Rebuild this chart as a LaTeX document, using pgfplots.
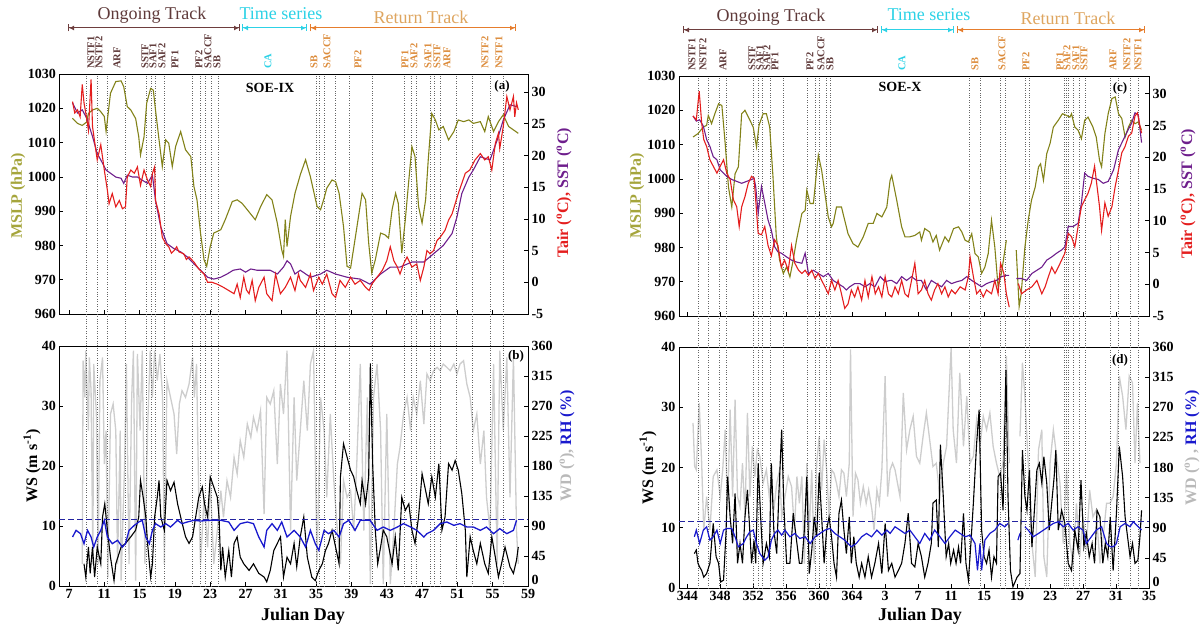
\documentclass[border=0pt]{standalone}
\usepackage{fontspec}
\setmainfont{Liberation Serif}
\usepackage{pgfplots}
\pgfplotsset{compat=1.18}
\usetikzlibrary{arrows.meta}
\definecolor{cOlive}{RGB}{130,130,25}
\definecolor{cOliveL}{RGB}{165,165,60}
\definecolor{cRed}{RGB}{228,30,30}
\definecolor{cPurple}{RGB}{110,30,140}
\definecolor{cGray}{RGB}{205,205,205}
\definecolor{cGrayL}{RGB}{185,185,185}
\definecolor{cBlue}{RGB}{25,25,205}
\definecolor{cBlueD}{RGB}{35,35,160}
\definecolor{cBrown}{RGB}{95,58,58}
\definecolor{cBrownA}{RGB}{110,62,62}
\definecolor{cCyan}{RGB}{45,210,230}
\definecolor{cOrange}{RGB}{230,125,45}
\definecolor{cOrangeT}{RGB}{222,165,95}
\definecolor{cOrangeL}{RGB}{220,140,60}
\pgfplotsset{
  base/.style={scale only axis, anchor=south west,
    ticklabel style={font=\fontsize{14}{14}\selectfont\bfseries},
    /pgf/number format/assume math mode=true,
    /pgf/number format/1000 sep={},
    tick style={black, line width=0.6pt}, major tick length=4pt,
    axis line style={line width=0.8pt}},
  lft/.style={base, xtick pos=bottom, ytick pos=left},
  rgt/.style={base, axis y line*=right, axis x line=none},
  hid/.style={base, hide axis},
  L/.style={xmin=5.9, xmax=59, width=468.7pt, xtick={7,11,...,59}},
  R/.style={xmin=343, xmax=400, width=470pt, xtick={344,348,...,400}},
}
\tikzset{front/.style={black!60, dotted, line width=0.45pt}}
\begin{document}
\begin{tikzpicture}
\useasboundingbox (0pt,0pt) rectangle (1202pt,-631pt);
% ================= (a) =================
\begin{axis}[lft, L, at={(59.3pt,-314pt)}, height=240pt, ymin=960, ymax=1030, ytick={960,970,...,1030}, xticklabels={}]
\pgfplotsinvokeforeach{9.0,10.14,11.34,13.38,15.8,16.37,16.78,17.76,21.01,21.87,22.48,23.09,23.91,34.98,35.36,35.92,37.17,38.72,41.36,44.98,45.82,46.31,47.93,48.35,49.11,50.92,52.73,54.77,56.17}{\draw[front] (axis cs:#1,960) -- (axis cs:#1,1030);}
\addplot[cOlive, line width=1.1pt] coordinates {(7.39,1017.1)(7.96,1015.6)(8.5,1015)(9.0,1016)(9.2,1018.5)(9.66,1019.5)(10.2,1020)(10.6,1019)(11.0,1017.6)(11.2,1013.2)(11.35,1016.6)(11.7,1024.4)(12.3,1027.8)(12.9,1028)(13.2,1026.3)(13.6,1020.5)(14.0,1019.5)(14.55,1017)(14.9,1011.7)(15.1,1006.4)(15.5,1011.7)(15.8,1021.5)(16.25,1025.8)(16.55,1025.3)(16.8,1019.5)(17.2,1010.8)(17.57,1003)(17.95,1010.8)(18.3,1009.8)(18.7,1003)(19.08,1008.9)(19.65,1013.2)(20.2,1007.9)(20.8,1005.9)(21.15,997.2)(21.5,993.3)(21.9,983.6)(22.3,975.8)(22.6,973.9)(23.0,979.7)(23.4,983.6)(24.2,984.6)(24.7,987.5)(25.5,992.8)(26.05,993.3)(26.6,992.3)(27.2,990.4)(28.1,987.5)(28.7,991.3)(29.4,994.8)(30.0,993.3)(30.6,986.5)(31.1,978.7)(31.3,976.8)(31.5,987.5)(31.7,979.7)(32.1,988.5)(32.6,995.2)(33.2,1000.6)(33.8,1005)(34.35,1000)(35.1,991.4)(35.5,990.4)(35.9,993.8)(36.2,996.7)(36.8,999.1)(37.2,998.6)(37.6,995.2)(38.1,985.5)(38.5,973.9)(38.9,973.4)(39.4,981.7)(40.2,995.2)(40.6,993.3)(40.95,980.7)(41.3,972)(41.7,975.8)(42.3,983.6)(42.8,983.1)(43.2,982.1)(43.6,990.4)(44.0,995.2)(44.3,992.3)(44.7,977.8)(45.1,987.5)(45.5,999.1)(45.85,1008.8)(46.2,1005.9)(46.6,991.4)(47.0,986.5)(47.4,993.3)(47.7,1005)(48.1,1018.5)(48.5,1016.6)(48.9,1013.7)(49.4,1014.7)(50.0,1010.8)(50.6,1013.2)(51.1,1016.6)(51.7,1016.1)(52.3,1016.6)(52.8,1015.6)(53.6,1016.1)(54.1,1013.2)(54.5,1017.6)(55.1,1013.2)(55.65,1016.1)(56.2,1018.1)(56.8,1014.7)(57.35,1013.7)(57.9,1012.7)};
\end{axis}
\begin{axis}[rgt, L, at={(59.3pt,-314pt)}, height=240pt, ymin=-5, ymax=32.85, ytick={-5,0,...,30}]
\addplot[cPurple, line width=1.1pt] coordinates {(7.4,28.3)(7.96,26.7)(8.5,27.2)(9.0,25.9)(9.66,23.0)(10.2,20.3)(10.6,19.3)(11.2,17.7)(11.7,17.2)(12.3,16.6)(12.9,16.4)(13.2,15.6)(13.6,16.9)(14.2,16.6)(14.75,16.6)(15.3,16.1)(15.9,15.6)(16.45,16.9)(16.8,12.9)(17.4,8.7)(18.1,6.1)(18.9,5.3)(19.65,4.8)(20.4,4.0)(21.15,2.9)(21.9,1.9)(22.7,0.8)(23.4,0.5)(24.2,0.8)(24.9,1.3)(25.6,1.9)(26.4,2.1)(27.0,1.6)(27.6,2.1)(28.3,1.9)(29.1,1.9)(29.8,1.9)(30.6,1.3)(31.3,2.4)(31.7,3.4)(32.1,2.9)(32.6,1.3)(33.2,1.9)(34.35,0.8)(35.5,1.3)(36.2,1.9)(37.2,1.3)(38.5,0.8)(40.0,0.5)(41.1,-0.3)(42.3,1.3)(43.4,2.4)(44.5,2.4)(45.85,3.2)(47.2,3.2)(48.3,4.5)(49.4,5.8)(50.4,7.7)(50.95,10.3)(51.5,14.0)(52.3,16.6)(52.8,17.7)(53.6,19.8)(54.7,19.3)(55.5,22.4)(56.2,25.6)(56.96,28.0)(57.7,27.7)};
\addplot[cRed, line width=1.1pt] coordinates {(7.4,28.5)(7.65,26.7)(7.96,27.2)(8.26,26.1)(8.5,31.2)(8.7,28.3)(8.9,26.7)(9.2,24.0)(9.5,32.0)(9.66,24.6)(10.03,20.9)(10.2,19.3)(10.6,21.7)(11.0,17.7)(11.35,14.5)(11.54,12.4)(11.9,14.0)(12.3,11.9)(12.7,12.9)(13.05,11.6)(13.4,11.9)(13.6,16.6)(14.0,17.7)(14.4,17.2)(14.75,18.2)(15.1,15.3)(15.5,17.7)(15.9,16.1)(16.25,15.1)(16.45,17.2)(16.7,18.2)(16.8,12.9)(17.2,10.8)(17.57,7.1)(17.95,6.1)(18.3,5.6)(18.6,4.6)(18.9,5.0)(19.2,5.6)(19.45,4.8)(20.0,4.5)(20.3,3.6)(20.6,4.0)(21.15,3.2)(21.7,2.1)(22.3,1.3)(22.7,0.0)(23.2,0.0)(23.8,-0.3)(24.5,-0.8)(25.1,-1.3)(25.7,-1.8)(26.05,-0.3)(26.4,-2.4)(26.8,0.8)(27.1,-1.2)(27.4,-1.8)(27.75,0.3)(28.1,-2.9)(28.5,-0.8)(29.1,0.8)(29.4,-1.8)(30.0,-2.9)(30.4,1.3)(30.95,-1.8)(31.5,-0.8)(32.1,0.8)(32.6,-1.3)(33.0,1.3)(33.2,0.3)(33.8,-0.8)(34.35,1.3)(34.7,-1.3)(35.3,0.8)(35.7,-0.3)(36.2,1.3)(36.8,-1.8)(37.2,-2.4)(37.7,0.3)(38.3,-0.8)(38.9,0.8)(39.4,-0.3)(40.0,0.3)(40.6,-0.8)(41.0,-1.3)(41.3,-0.3)(41.9,0.8)(42.5,1.9)(43.0,3.4)(43.4,5.6)(43.8,3.4)(44.2,2.4)(44.5,1.3)(44.9,2.9)(45.3,4.0)(45.85,2.4)(46.4,2.9)(46.8,0.3)(47.2,2.4)(47.55,5.0)(47.9,4.5)(48.3,5.0)(48.7,6.6)(49.05,7.1)(49.6,8.2)(50.0,9.8)(50.4,10.8)(50.75,12.4)(51.1,14.0)(51.5,15.6)(51.9,17.2)(52.4,17.7)(53.0,19.3)(53.6,20.3)(54.1,19.3)(54.5,19.8)(54.9,17.7)(55.3,21.9)(55.65,23.5)(55.8,21.1)(56.2,24.6)(56.6,29.3)(56.96,27.2)(57.35,29.3)(57.5,26.1)(57.7,28.3)(57.9,27.2)};
\end{axis}
% ================= (b) =================
\begin{axis}[rgt, L, at={(59.3pt,-586pt)}, height=240pt, ymin=0, ymax=360, ytick={45,90,...,360}, extra y ticks={0}, extra y tick style={yticklabel style={yshift=6pt}}]
\addplot[cGray, line width=1.3pt] coordinates {(8.5,33)(8.6,338)(8.8,283)(8.9,353)(9.2,233)(9.3,343)(9.5,293)(9.7,33)(9.8,333)(10.1,258)(10.3,33)(10.5,308)(10.8,343)(11.0,183)(11.2,233)(11.4,13)(11.7,258)(12.0,273)(12.3,233)(12.5,33)(12.8,233)(12.9,8)(13.3,183)(13.5,333)(13.8,33)(14.1,283)(14.3,353)(14.55,8)(14.75,348)(15.05,233)(15.3,353)(15.6,33)(15.9,233)(16.2,353)(16.45,283)(16.7,353)(17.0,308)(17.3,348)(17.6,283)(17.8,33)(18.1,308)(18.5,283)(18.9,258)(19.2,198)(19.5,273)(19.8,293)(20.2,283)(20.6,303)(21.0,343)(21.2,283)(21.45,333)(21.7,133)(21.9,33)(22.3,133)(22.7,58)(23.0,158)(23.4,33)(23.8,83)(24.2,143)(24.5,103)(24.9,158)(25.3,133)(25.7,193)(26.05,168)(26.4,218)(26.8,193)(27.2,243)(27.6,223)(27.9,253)(28.3,233)(28.7,263)(29.1,108)(29.4,283)(29.8,273)(30.2,293)(30.6,183)(30.95,303)(31.3,258)(31.7,353)(32.1,83)(32.5,283)(32.8,158)(33.2,233)(33.6,308)(34.0,233)(34.35,333)(34.7,353)(35.1,33)(35.5,283)(35.9,233)(36.2,133)(36.6,258)(37.0,158)(37.4,83)(37.75,33)(38.1,158)(38.5,133)(38.9,143)(39.25,83)(39.6,183)(40.0,333)(40.4,83)(40.8,283)(41.14,3)(41.5,283)(41.9,333)(42.3,233)(42.6,3)(43.0,258)(43.4,3)(43.8,83)(44.2,183)(44.5,208)(44.9,258)(45.3,283)(45.7,233)(46.0,283)(46.4,258)(46.8,308)(47.2,243)(47.55,318)(47.9,308)(48.3,323)(48.7,328)(49.05,323)(49.4,333)(49.8,328)(50.2,323)(50.6,333)(50.95,318)(51.3,333)(51.7,338)(52.07,303)(52.45,283)(52.8,233)(53.2,258)(53.6,183)(54.0,233)(54.3,133)(54.7,83)(55.1,333)(55.5,33)(55.8,353)(56.2,233)(56.6,343)(56.96,133)(57.35,343)(57.7,83)(57.9,33)};
\end{axis}
\begin{axis}[lft, L, at={(59.3pt,-586pt)}, height=240pt, ymin=0, ymax=40, ytick={0,10,...,40}, clip=false]
\pgfplotsinvokeforeach{9.0,10.14,11.34,13.38,15.8,16.37,16.78,17.76,21.01,21.87,22.48,23.09,23.91,34.98,35.36,35.92,37.17,38.72,41.36,44.98,45.82,46.31,47.93,48.35,49.11,50.92,52.73,54.77,56.17}{\draw[front] (axis cs:#1,0) -- (axis cs:#1,45.33);}
\addplot[black, line width=1.1pt] coordinates {(8.7,3.7)(8.9,1.5)(9.2,6.5)(9.4,2.1)(9.66,6.5)(9.9,1.5)(10.2,6.5)(10.6,3.7)(10.8,11.5)(11.05,13.7)(11.35,9.3)(11.7,4.8)(12.1,0.9)(12.3,3.7)(12.9,6.5)(13.4,7.1)(14.0,8.2)(14.55,9.3)(14.9,11.5)(15.1,17.6)(15.4,14.8)(15.7,11.5)(15.9,7.1)(16.25,1.5)(16.45,3.7)(16.7,11.5)(17.0,14.8)(17.2,17.6)(17.4,11.5)(17.8,9.3)(18.1,17.6)(18.5,15.9)(18.9,17.3)(19.3,13.7)(19.65,11.5)(20.2,8.2)(20.6,7.1)(21.0,8.2)(21.35,11.5)(21.7,14.8)(22.1,16.5)(22.35,13.7)(22.7,11.5)(23.0,18.2)(23.4,16.5)(23.8,14.8)(24.0,11.5)(24.2,2.6)(24.4,6.5)(24.7,1.5)(25.1,5.9)(25.4,1.5)(25.7,7.1)(26.05,8.2)(26.4,4.8)(26.8,3.7)(27.4,2.6)(27.9,3.7)(28.5,2.1)(29.1,1.5)(29.4,0.7)(29.8,2.6)(30.2,5.9)(30.6,7.1)(30.96,8.2)(31.3,1.5)(31.7,4.8)(32.1,3.7)(32.5,7.1)(32.8,3.2)(33.2,8.2)(33.6,11.5)(34.0,4.8)(34.5,1.5)(34.9,0.9)(35.3,2.6)(35.7,3.7)(36.05,5.9)(36.4,7.1)(36.8,9.3)(37.2,6.5)(37.6,3.7)(37.75,18.2)(38.1,23.7)(38.5,21.5)(38.9,19.3)(39.25,18.2)(39.6,15.9)(40.0,13.7)(40.2,17.6)(40.6,13.7)(40.95,18.2)(41.14,37.1)(41.4,20.4)(41.7,9.3)(41.97,3.7)(42.3,6.5)(42.6,9.3)(43.0,8.2)(43.6,3.7)(43.96,8.2)(44.3,2.6)(44.7,14.8)(45.1,12.6)(45.5,13.7)(45.85,9.3)(46.2,7.1)(46.6,11.5)(47.0,18.7)(47.4,15.9)(47.7,13.7)(48.1,18.2)(48.5,14.8)(48.9,20.4)(49.25,9.3)(49.6,11.5)(50.0,20.4)(50.4,19.3)(50.75,20.9)(51.1,19.3)(51.5,15.4)(51.9,9.3)(52.07,1.5)(52.45,8.2)(52.8,5.9)(53.2,3.7)(53.6,7.1)(54.1,3.7)(54.5,2.1)(54.9,8.2)(55.3,4.8)(55.65,1.5)(56.0,3.7)(56.4,6.5)(56.96,3.2)(57.35,2.1)(57.7,4.3)(57.9,6.5)};
\end{axis}
\begin{axis}[hid, L, at={(59.3pt,-586pt)}, height=240pt, ymin=0, ymax=360]
\addplot[cBlueD, line width=1pt, dash pattern=on 6pt off 3pt] coordinates {(5.9,100)(59,100)};
\addplot[cBlue, line width=1.3pt] coordinates {(7.4,73.5)(7.8,83.5)(8.3,78.5)(8.7,63.5)(9.1,83.5)(9.5,73.5)(9.8,58.5)(10.2,73.5)(10.6,83.5)(11.0,98.5)(11.35,73.5)(11.9,63.5)(12.5,68.5)(13.05,58.5)(13.4,63.5)(13.8,83.5)(14.4,91)(14.9,96)(15.3,98.5)(15.7,73.5)(16.1,63.5)(16.45,83.5)(16.8,93.5)(17.4,88.5)(17.95,93.5)(18.5,88.5)(19.3,98.5)(19.8,93.5)(20.4,96)(21.15,98.5)(21.9,97.5)(23.0,98.5)(24.2,98.5)(25.1,96)(25.7,83.5)(26.4,93.5)(27.2,96)(27.9,93.5)(28.5,73.5)(29.1,58.5)(29.4,83.5)(30.0,93.5)(30.6,83.5)(31.1,96)(31.7,73.5)(32.5,83.5)(33.2,73.5)(33.8,58.5)(34.35,83.5)(34.9,63.5)(35.3,53.5)(35.9,83.5)(36.4,78.5)(37.0,83.5)(37.6,73.5)(38.1,93.5)(38.7,98.5)(39.4,83.5)(40.0,98.5)(41.1,98.5)(41.9,83.5)(42.6,88.5)(43.4,83.5)(44.2,88.5)(44.9,93.5)(45.7,88.5)(46.4,83.5)(47.2,73.5)(47.55,78.5)(48.3,83.5)(49.05,93.5)(49.8,96)(50.6,91)(51.3,93.5)(52.07,88.5)(52.8,88.5)(53.6,83.5)(54.3,88.5)(55.1,78.5)(55.8,86)(56.6,78.5)(57.35,83.5)(57.7,98.5)};
\end{axis}
% ================= (c) =================
\begin{axis}[lft, R, at={(679pt,-316pt)}, height=240pt, ymin=960, ymax=1030, ytick={960,970,...,1030}, xticklabels={}, unbounded coords=jump]
\pgfplotsinvokeforeach{345.39,346.55,347.82,348.70,352.01,352.58,353.10,354.07,355.58,358.49,359.58,360.02,360.91,361.31,378.21,379.51,381.93,382.54,384.96,385.45,389.73,390.02,390.26,390.75,391.51,392.28,395.27,396.28,397.78,398.71}{\draw[front] (axis cs:#1,960) -- (axis cs:#1,1030);}
\addplot[cOlive, line width=1.1pt] coordinates {(344.7,1012.2)(345.3,1013.2)(345.95,1015.1)(346.35,1015.6)(346.55,1018.5)(346.95,1016.1)(347.35,1019)(347.8,1021.9)(348.2,1021.4)(348.6,1010.3)(349.0,997.6)(349.4,991.8)(349.8,1001.5)(350.2,1003.5)(350.6,1019)(351.0,1020)(351.6,1017.1)(352.0,1015.1)(352.4,1009.3)(352.7,1015.6)(353.2,1019)(353.6,1019)(354.0,1015.1)(354.4,1000.5)(354.8,983.1)(355.2,976.3)(355.65,972.4)(356.05,974.3)(356.45,971.4)(356.85,976.3)(357.25,982.1)(357.9,989.9)(358.3,990.8)(358.5,996.7)(358.9,992.8)(359.3,992.8)(359.7,1002.5)(359.9,1006.9)(360.3,1002.5)(360.7,995.7)(361.1,988.9)(361.5,986)(361.7,987)(362.1,991.8)(362.7,991.8)(363.1,987.9)(363.5,984)(364.1,981.1)(364.7,980.1)(365.35,983.1)(365.95,987)(366.55,987)(367.0,989.9)(367.6,988.9)(368.2,991.8)(368.6,999.6)(368.8,1001)(369.4,993.8)(370.0,986)(370.4,983.1)(371.0,983.1)(371.6,983.5)(372.2,984.5)(372.4,982.1)(372.8,985.5)(373.4,984.5)(373.8,981.6)(374.2,983.5)(374.6,979.2)(375.25,983.1)(375.7,981.6)(376.3,985.5)(376.9,986)(377.3,984.5)(377.7,982.1)(378.1,981.6)(378.5,984)(378.9,978.2)(379.3,977.2)(379.7,972.4)(380.1,974.3)(380.5,978.2)(380.9,987.9)(381.3,980.1)(381.7,968.5)(382.1,972.4)(382.7,982.1)(383.2,nan)(383.9,979.2)(384.25,962.7)(384.5,966.5)(384.95,980.1)(385.35,987.9)(385.75,993.8)(386.2,997.6)(386.6,1003.5)(386.85,1004.4)(387.2,999.6)(387.6,1007.4)(388.0,1010.3)(388.4,1015.1)(389.0,1017.1)(389.5,1019)(390.0,1018.5)(390.4,1018)(390.6,1019)(391.0,1015.1)(391.4,1014.2)(391.8,1011.7)(392.2,1017.1)(392.6,1018)(393.2,1015.1)(393.6,1012.2)(394.0,1005.4)(394.25,1003.5)(394.65,1013.2)(395.05,1019)(395.5,1023.4)(395.9,1023.9)(396.3,1019)(396.7,1017.6)(397.1,1012.2)(397.5,1015.1)(397.9,1017.1)(398.3,1016.1)(398.7,1016.6)(399.1,1014.2)};
\end{axis}
\begin{axis}[rgt, R, at={(679pt,-316pt)}, height=240pt, ymin=-5, ymax=32.8, ytick={-5,0,...,30}, unbounded coords=jump]
\addplot[cPurple, line width=1.1pt] coordinates {(344.7,26.5)(345.1,25.7)(345.5,25.9)(345.95,24.9)(346.35,22.8)(346.75,21.7)(347.15,20.1)(347.6,19.6)(348.0,18.0)(348.4,17.5)(348.8,17.0)(349.4,16.5)(350.0,16.2)(350.6,15.9)(351.2,16.2)(351.8,16.5)(352.1,16.7)(352.3,15.4)(352.6,11.2)(353.0,15.4)(353.4,12.8)(353.8,10.1)(354.2,8.5)(354.6,5.9)(355.0,5.1)(355.4,4.9)(356.05,4.3)(356.65,3.8)(357.25,3.5)(357.9,3.3)(358.3,4.9)(358.7,1.7)(359.3,2.2)(359.9,1.7)(360.5,1.2)(361.1,1.7)(361.7,0.6)(362.3,0.1)(362.9,-0.4)(363.3,-0.9)(363.7,-0.4)(364.3,0.1)(364.95,0.1)(365.55,-0.4)(366.15,0.1)(366.75,-0.4)(367.4,1.2)(368.0,0.4)(368.6,0.6)(368.8,0.6)(369.4,0.1)(370.0,1.2)(370.6,0.6)(371.2,1.2)(371.8,0.6)(372.4,0.6)(373.0,-0.9)(373.6,0.6)(374.2,0.1)(374.85,-0.4)(375.45,0.6)(376.05,0.1)(376.7,0.4)(377.3,0.6)(377.9,1.2)(378.5,0.6)(379.1,0.1)(379.7,-0.4)(380.3,0.1)(380.9,0.4)(381.5,0.6)(382.1,1.2)(382.7,1.4)(383.05,1.4)(383.5,nan)(383.9,0.9)(384.55,0.9)(385.15,0.6)(385.8,1.7)(386.4,2.2)(387.0,2.7)(387.6,3.8)(388.2,4.3)(388.8,4.9)(389.4,5.4)(389.8,5.9)(390.2,9.1)(390.8,9.1)(391.4,9.6)(391.8,12.8)(392.2,17.5)(392.6,17.0)(393.2,16.7)(393.85,16.5)(394.45,15.9)(395.05,16.2)(395.7,18.0)(396.3,21.2)(396.9,22.8)(397.5,24.4)(397.9,25.4)(398.3,27.0)(398.7,26.7)(399.1,22.3)};
\addplot[cRed, line width=1.1pt] coordinates {(344.7,26.5)(345.1,25.9)(345.45,30.4)(345.75,25.4)(346.0,22.8)(346.35,21.7)(346.75,19.6)(347.15,18.6)(347.6,17.5)(348.0,18.6)(348.4,19.6)(348.8,17.5)(349.2,16.5)(349.6,13.3)(350.0,12.2)(350.3,9.1)(350.6,12.2)(351.0,13.8)(351.4,15.9)(351.8,17.0)(352.1,16.7)(352.3,13.3)(352.6,8.0)(353.0,7.8)(353.4,9.1)(353.8,6.1)(354.2,4.5)(354.6,7.0)(355.0,6.1)(355.4,2.7)(355.8,3.8)(356.25,2.2)(356.65,6.1)(357.05,3.3)(357.5,2.2)(357.9,1.7)(358.3,2.2)(358.7,1.4)(359.1,2.2)(359.5,0.9)(359.9,1.7)(360.3,0.6)(360.7,-0.4)(361.1,-1.5)(361.5,0.6)(361.9,-0.9)(362.3,0.6)(362.7,-1.5)(363.1,-3.8)(363.5,-3.1)(363.9,-0.9)(364.3,-2.0)(364.7,-0.4)(365.15,-2.5)(365.55,0.6)(365.95,-2.0)(366.4,1.2)(366.8,-1.5)(367.2,-0.4)(367.6,-2.0)(368.0,1.2)(368.4,-1.5)(368.8,-2.0)(369.2,-0.4)(369.6,-1.5)(370.0,0.6)(370.4,-1.5)(370.8,-2.0)(371.2,0.6)(371.6,3.3)(372.0,-1.5)(372.4,-0.9)(372.8,0.6)(373.2,-1.5)(373.6,-2.5)(374.0,-0.9)(374.4,0.1)(374.85,-1.5)(375.25,-0.4)(375.65,-2.0)(376.05,-0.9)(376.5,-1.5)(377.1,-0.4)(377.7,-0.9)(378.1,1.2)(378.3,4.3)(378.7,1.2)(379.1,-1.5)(379.5,-0.9)(379.9,-2.0)(380.3,-0.9)(380.9,-1.5)(381.3,0.6)(381.7,-1.5)(382.0,3.3)(382.4,1.7)(382.7,-1.5)(383.05,-3.6)(383.5,nan)(384.15,0.1)(384.55,-1.5)(385.15,-0.9)(385.8,-0.4)(386.4,0.6)(387.0,-1.5)(387.4,-0.4)(387.8,1.2)(388.2,2.7)(388.6,1.7)(389.0,2.7)(389.4,3.8)(389.8,4.9)(390.2,8.0)(390.6,7.5)(391.0,5.9)(391.4,9.1)(391.8,12.2)(392.2,13.3)(392.6,14.3)(393.0,15.9)(393.4,18.6)(393.7,15.4)(394.0,12.2)(394.25,8.5)(394.65,12.8)(395.05,10.7)(395.5,12.2)(395.9,15.4)(396.3,18.0)(396.7,20.7)(397.1,21.7)(397.5,23.3)(397.9,23.8)(398.3,26.5)(398.6,27.0)(398.9,24.9)(399.1,23.8)};
\end{axis}
% ================= (d) =================
\begin{axis}[rgt, R, at={(679pt,-588pt)}, height=241pt, ymin=0, ymax=360, ytick={45,90,...,360}, extra y ticks={0}, extra y tick style={yticklabel style={yshift=6pt}}, unbounded coords=jump]
\addplot[cGray, line width=1.3pt] coordinates {(344.7,246.5)(344.9,181.5)(345.1,176.5)(345.45,276.5)(345.75,186.5)(346.0,86.5)(346.35,136.5)(346.75,86.5)(347.15,166.5)(347.6,176.5)(348.0,136.5)(348.3,176.5)(348.6,236.5)(348.9,116.5)(349.2,266.5)(349.5,136.5)(349.8,281.5)(350.1,136.5)(350.4,121.5)(350.7,186.5)(351.0,106.5)(351.3,261.5)(351.6,136.5)(351.9,211.5)(352.2,166.5)(352.5,206.5)(352.8,196.5)(353.2,156.5)(353.6,176.5)(353.95,136.5)(354.2,166.5)(354.5,116.5)(354.85,156.5)(355.2,176.5)(355.45,106.5)(355.85,136.5)(356.25,166.5)(356.65,151.5)(357.0,86.5)(357.3,166.5)(357.6,126.5)(357.9,166.5)(358.2,36.5)(358.5,186.5)(358.8,86.5)(359.1,176.5)(359.4,36.5)(359.7,186.5)(360.0,226.5)(360.3,146.5)(360.6,221.5)(360.9,176.5)(361.2,106.5)(361.5,176.5)(361.8,171.5)(362.1,156.5)(362.4,136.5)(362.7,176.5)(363.0,171.5)(363.3,136.5)(363.65,186.5)(363.8,356.5)(364.1,106.5)(364.4,171.5)(364.7,161.5)(365.0,126.5)(365.35,151.5)(365.7,126.5)(366.0,146.5)(366.4,116.5)(366.65,86.5)(367.0,146.5)(367.3,126.5)(367.6,176.5)(368.0,316.5)(368.3,136.5)(368.6,176.5)(368.9,186.5)(369.2,176.5)(369.8,136.5)(370.2,291.5)(370.6,206.5)(371.0,236.5)(371.4,256.5)(371.8,196.5)(372.2,186.5)(372.6,226.5)(373.0,261.5)(373.4,221.5)(373.8,181.5)(374.2,186.5)(374.65,136.5)(375.05,186.5)(375.45,211.5)(376.0,359)(376.25,236.5)(376.65,186.5)(377.05,321.5)(377.5,211.5)(377.9,286.5)(378.3,186.5)(378.7,196.5)(379.1,251.5)(379.5,211.5)(379.9,256.5)(380.3,236.5)(380.7,261.5)(381.1,211.5)(381.5,186.5)(381.9,166.5)(382.3,186.5)(382.7,346.5)(383.05,186.5)(383.6,nan)(384.35,226.5)(384.65,336.5)(384.95,286.5)(385.35,186.5)(385.8,66.5)(386.2,16.5)(386.6,206.5)(387.0,236.5)(387.25,46.5)(387.6,16.5)(388.0,186.5)(388.4,236.5)(388.8,196.5)(389.2,156.5)(389.6,66.5)(390.0,176.5)(390.4,66.5)(390.8,36.5)(391.2,126.5)(391.6,46.5)(392.0,106.5)(392.4,56.5)(392.8,146.5)(393.2,106.5)(393.6,116.5)(394.05,36.5)(394.45,76.5)(394.85,126.5)(395.25,126.5)(395.65,136.5)(396.05,186.5)(396.4,316.5)(396.8,286.5)(397.2,236.5)(397.6,316.5)(398.0,306.5)(398.3,186.5)(398.6,276.5)(398.9,186.5)};
\end{axis}
\begin{axis}[lft, R, at={(679pt,-588pt)}, height=241pt, ymin=0, ymax=40, ytick={0,10,...,40}, xticklabels={344,348,352,356,360,364,3,7,11,15,19,23,27,31,35}, clip=false, unbounded coords=jump]
\pgfplotsinvokeforeach{345.39,346.55,347.82,348.70,352.01,352.58,353.10,354.07,355.58,358.49,359.58,360.02,360.91,361.31,378.21,379.51,381.93,382.54,384.96,385.45,389.73,390.02,390.26,390.75,391.51,392.28,395.27,396.28,397.78,398.71}{\draw[front] (axis cs:#1,0) -- (axis cs:#1,45.3);}
\addplot[black, line width=1.1pt] coordinates {(344.86,5.7)(345.1,6.3)(345.3,4.1)(345.5,3.5)(345.75,2.9)(346.0,1.8)(346.35,2.4)(346.75,4.1)(347.15,10.7)(347.5,5.2)(347.8,4.1)(348.05,1.0)(348.4,1.3)(348.7,9.1)(348.9,18.5)(349.2,11.8)(349.5,7.4)(349.8,15.7)(350.1,4.1)(350.4,7.4)(350.7,4.1)(351.0,11.8)(351.3,16.3)(351.6,9.1)(351.8,4.1)(352.1,7.9)(352.3,4.1)(352.6,20.7)(352.9,11.8)(353.2,4.1)(353.6,7.4)(353.95,5.2)(354.2,20.7)(354.5,9.6)(354.85,5.7)(355.1,15.2)(355.45,26.3)(355.7,14.1)(356.05,4.1)(356.45,4.1)(356.85,12.4)(357.3,7.4)(357.6,4.1)(357.9,4.1)(358.2,9.6)(358.5,18.5)(358.8,2.4)(359.1,6.3)(359.4,11.8)(359.7,8.5)(360.0,19.1)(360.3,11.8)(360.6,4.1)(360.9,9.6)(361.2,11.8)(361.5,8.5)(361.8,4.1)(362.1,1.8)(362.4,12.4)(362.7,14.6)(363.0,9.6)(363.3,5.7)(363.65,11.8)(363.9,4.1)(364.2,8.5)(364.5,4.1)(364.85,1.8)(365.15,4.1)(365.55,1.8)(365.95,5.2)(366.35,1.8)(366.75,4.1)(367.2,7.4)(367.6,2.4)(368.0,10.7)(368.4,2.9)(368.8,4.1)(369.2,1.8)(369.6,2.9)(370.0,4.1)(370.4,7.4)(370.8,12.4)(371.2,4.1)(371.6,3.5)(372.0,7.4)(372.4,5.2)(372.8,1.8)(373.2,4.1)(373.6,7.4)(373.8,14.1)(374.2,14.6)(374.45,6.8)(374.7,23.8)(375.05,15.2)(375.4,5.2)(375.7,7.4)(375.95,4.1)(376.3,6.3)(376.6,4.1)(376.9,6.8)(377.15,4.1)(377.5,12.4)(377.8,4.1)(378.1,1.3)(378.4,7.4)(378.7,14.1)(379.1,24.1)(379.4,29.6)(379.7,9.6)(380.0,5.2)(380.3,4.1)(380.6,6.3)(380.9,1.8)(381.2,5.2)(381.5,4.1)(381.7,18.5)(382.0,19.1)(382.3,12.9)(382.65,36.2)(382.9,15.2)(383.2,2.9)(383.5,0.2)(384.0,1.8)(384.35,2.4)(384.65,22.9)(384.95,15.2)(385.2,12.9)(385.5,19.6)(385.8,6.8)(386.05,11.8)(386.4,19.6)(386.7,20.7)(387.0,17.4)(387.25,21.8)(387.6,17.4)(387.9,9.6)(388.2,14.1)(388.5,18.5)(388.7,22.9)(389.0,9.6)(389.4,12.9)(389.8,10.7)(390.2,4.1)(390.6,2.9)(391.0,9.6)(391.4,6.3)(391.75,17.9)(392.1,6.8)(392.4,9.1)(392.75,5.2)(393.1,7.4)(393.4,4.1)(393.7,12.9)(394.05,11.8)(394.4,4.1)(394.7,7.4)(395.0,5.2)(395.3,11.8)(395.65,2.9)(396.05,12.4)(396.4,23.5)(396.8,18.5)(397.1,11.8)(397.4,8.5)(397.7,5.2)(398.0,7.4)(398.3,4.1)(398.65,4.6)(398.9,8.5)(399.1,12.9)};
\end{axis}
\begin{axis}[hid, R, at={(679pt,-588pt)}, height=241pt, ymin=0, ymax=360, unbounded coords=jump]
\addplot[cBlueD, line width=1pt, dash pattern=on 6pt off 3pt] coordinates {(343,100)(400,100)};
\addplot[cBlue, line width=1.2pt] coordinates {(344.86,76.5)(345.1,86.5)(345.5,66.5)(345.95,86.5)(346.35,91.5)(346.75,71.5)(347.15,76.5)(347.6,86.5)(348.0,66.5)(348.4,86.5)(348.8,89)(349.4,89)(349.8,76.5)(350.2,61.5)(350.8,66.5)(351.2,76.5)(351.6,84)(352.0,86.5)(352.4,66.5)(352.8,51.5)(353.4,41.5)(353.8,46.5)(354.2,71.5)(354.6,81.5)(355.0,86.5)(355.45,79)(355.85,86.5)(356.45,76.5)(357.05,81.5)(357.65,74)(358.3,76.5)(358.9,66.5)(359.5,76.5)(360.1,81.5)(360.7,86.5)(361.3,89)(361.9,81.5)(362.5,76.5)(363.1,71.5)(363.5,66.5)(363.9,61.5)(364.5,66.5)(365.15,76.5)(365.75,81.5)(366.35,76.5)(367.0,86.5)(367.6,79)(368.2,86.5)(368.6,81.5)(369.2,91.5)(369.8,86.5)(370.4,81.5)(371.0,86.5)(371.6,76.5)(372.2,66.5)(372.8,81.5)(373.4,71.5)(374.0,86.5)(374.65,76.5)(375.25,66.5)(375.85,76.5)(376.5,86.5)(377.1,81.5)(377.7,76.5)(378.3,79)(378.9,66.5)(379.2,26.5)(379.5,66.5)(379.7,26.5)(380.1,71.5)(380.7,81.5)(381.3,86.5)(381.9,96.5)(382.5,91.5)(382.9,96.5)(383.5,nan)(384.1,71.5)(384.35,81.5)(384.6,nan)(384.95,91.5)(385.35,86.5)(385.95,76.5)(386.6,81.5)(387.2,86.5)(387.8,91.5)(388.4,96.5)(389.0,99)(389.6,91.5)(390.2,96.5)(390.8,86.5)(391.4,91.5)(392.0,86.5)(392.4,66.5)(393.0,76.5)(393.6,86.5)(394.25,91.5)(394.85,66.5)(395.3,61.5)(395.65,61.5)(396.05,66.5)(396.5,91.5)(397.1,96.5)(397.7,91.5)(398.1,99)(398.7,91.5)(399.1,86.5)};
\end{axis}
% ================= annotations =================
\tikzset{lab/.style={font=\fontsize{16}{16}\selectfont\bfseries, rotate=90, anchor=center, inner sep=0pt},
  fl/.style={font=\fontsize{10.5}{10.5}\selectfont\bfseries, rotate=90, anchor=west, inner sep=0pt},
  trk/.style={font=\fontsize{18}{18}\selectfont, inner sep=0pt},
  tarr/.style={line width=1pt, {Bar[width=7pt]Latex[length=5pt,width=5pt]}-{Latex[length=5pt,width=5pt]Bar[width=7pt]}}}
% y labels
\node[lab, text=cOliveL] at (18pt,-196pt) {MSLP (hPa)};
\node[lab] at (32pt,-466pt) {WS (m s\textsuperscript{-1})};
\node[lab, text=cOliveL] at (637pt,-196pt) {MSLP (hPa)};
\node[lab] at (648pt,-468pt) {WS (m s\textsuperscript{-1})};
\node[lab] at (564pt,-193pt) {\textcolor{cRed}{Tair (\textsuperscript{o}C),} \textcolor{cPurple}{SST (\textsuperscript{o}C)}};
\node[lab] at (1188pt,-194pt) {\textcolor{cRed}{Tair (\textsuperscript{o}C),} \textcolor{cPurple}{SST (\textsuperscript{o}C)}};
\node[lab] at (567pt,-446pt) {\textcolor{cGrayL}{WD (\textsuperscript{o}),} \textcolor{cBlue}{RH (\%)}};
\node[lab] at (1192pt,-448pt) {\textcolor{cGrayL}{WD (\textsuperscript{o}) ,} \textcolor{cBlue}{RH (\%)}};
% x labels
\node[font=\fontsize{18}{18}\selectfont\bfseries] at (303pt,-616pt) {Julian Day};
\node[font=\fontsize{18}{18}\selectfont\bfseries] at (920pt,-616pt) {Julian Day};
% titles and panel letters
\node[font=\fontsize{14}{14}\selectfont\bfseries] at (270pt,-88pt) {SOE-IX};
\node[font=\fontsize{14}{14}\selectfont\bfseries] at (900pt,-87pt) {SOE-X};
\node[font=\fontsize{13}{13}\selectfont\bfseries] at (502pt,-86pt) {(a)};
\node[font=\fontsize{13}{13}\selectfont\bfseries] at (516pt,-356pt) {(b)};
\node[font=\fontsize{13}{13}\selectfont\bfseries] at (1120pt,-88pt) {(c)};
\node[font=\fontsize{13}{13}\selectfont\bfseries] at (1120pt,-360pt) {(d)};
% tracks left
\draw[tarr, cBrownA] (68pt,-28pt) -- (240pt,-28pt);
\draw[tarr, cCyan] (242pt,-28pt) -- (307pt,-28pt);
\draw[tarr, cOrange] (310pt,-28pt) -- (516pt,-28pt);
\node[trk, text=cBrown] at (152pt,-15pt) {Ongoing Track};
\node[trk, text=cCyan] at (281pt,-14pt) {Time series};
\node[trk, text=cOrangeT] at (421pt,-17pt) {Return Track};
% tracks right
\draw[tarr, cBrownA] (683pt,-30pt) -- (878pt,-30pt);
\draw[tarr, cCyan] (881pt,-30pt) -- (954pt,-30pt);
\draw[tarr, cOrange] (957pt,-30pt) -- (1145pt,-30pt);
\node[trk, text=cBrown] at (771pt,-17pt) {Ongoing Track};
\node[trk, text=cCyan] at (929pt,-15pt) {Time series};
\node[trk, text=cOrangeT] at (1068pt,-18pt) {Return Track};
% front labels left
\foreach \x/\t in {91/NSTF1,99/NSTF2,117/ARF,145/SSTF,153/SAF1,162/SAF2,175/PF1,199/PF2,208/SACCF,217/SB}
  \node[fl, text=cBrown] at (\x pt,-69pt) {\t};
\node[fl, text=cCyan] at (268pt,-69pt) {CA};
\foreach \x/\t in {314/SB,327/SACCF,358/PF2,405/PF1,414/SAF2,428/SAF1,437/SSTF,447/ARF,485/NSTF2,499/NSTF1}
  \node[fl, text=cOrangeL] at (\x pt,-69pt) {\t};
% front labels right
\foreach \x/\t in {692/NSTF1,703/NSTF2,723/ARF,752/SSTF,760/SAF1,767/SAF2,775/PF1,810/PF2,821/SACCF,830/SB}
  \node[fl, text=cBrown] at (\x pt,-71pt) {\t};
\node[fl, text=cCyan] at (902pt,-71pt) {CA};
\foreach \x/\t in {975/SB,1002/SACCF,1026/PF2,1060/PF1,1067/SAF2,1076/SAF1,1084/SSTF,1113/ARF,1127/NSTF2,1138/NSTF1}
  \node[fl, text=cOrangeL] at (\x pt,-71pt) {\t};
\end{tikzpicture}
\end{document}
